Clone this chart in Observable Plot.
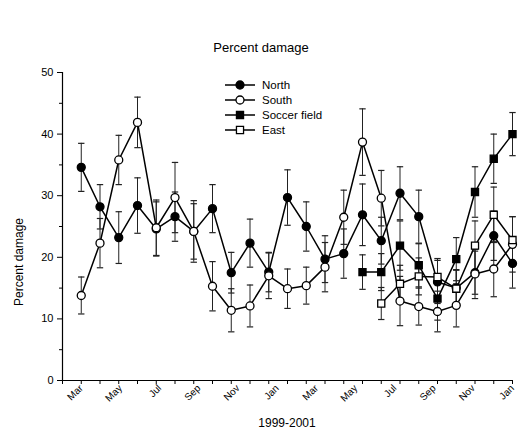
<!DOCTYPE html>
<html>
<head>
<meta charset="utf-8">
<script src="https://cdn.jsdelivr.net/npm/d3@7"></script>
<script src="https://cdn.jsdelivr.net/npm/@observablehq/plot@0.6"></script>
<style>
  html, body { margin: 0; padding: 0; background: #fff; }
  #chart svg { display: block; }
</style>
</head>
<body>
<div id="chart"></div>
<script>
// ---- data ----
const monthLabels = ["Mar","May","Jul","Sep","Nov","Jan","Mar","May","Jul","Sep","Nov","Jan"];
const yTicks = [0, 10, 20, 30, 40, 50];
const yMinor = [5, 15, 25, 35, 45];
const seriesNames = ["North", "South", "Soccer field", "East"];

// sampling occasions 0..23 (Mar 1999 – early 2001)
const north    = [34.6, 28.2, 23.2, 28.4, 24.6, 26.6, 24.2, 27.9, 17.5, 22.3, 17.6, 29.7, 25.0, 19.7, 20.6, 26.9, 22.7, 30.4, 26.6, 16.0, 15.0, 17.5, 23.5, 19.0];
const northErr = [3.9, 3.6, 4.2, 4.5, 4.4, 4.0, 4.5, 3.9, 3.3, 3.9, 3.2, 4.5, 4.0, 3.8, 4.0, 5.0, 3.8, 4.3, 4.3, 3.5, 3.0, 3.5, 4.0, 4.0];
const south    = [13.8, 22.3, 35.8, 41.9, 24.8, 29.7, 24.2, 15.3, 11.4, 12.1, 17.0, 14.9, 15.4, 18.4, 26.5, 38.7, 29.6, 12.9, 12.0, 11.2, 12.2, 17.3, 18.1, 22.1];
const southErr = [3.0, 4.0, 4.0, 4.1, 4.5, 5.7, 5.0, 4.0, 3.5, 3.4, 3.7, 3.2, 3.0, 4.0, 4.4, 5.4, 4.5, 4.0, 3.0, 3.3, 3.5, 4.0, 4.5, 4.5];
const soccerStart = 15;
const soccer    = [17.6, 17.6, 21.9, 18.7, 13.3, 19.7, 30.6, 36.0, 40.0];
const soccerErr = [2.8, 3.0, 4.0, 3.5, 3.5, 3.5, 4.1, 4.0, 3.5];
const eastStart = 16;
const east    = [12.5, 15.7, 16.9, 16.8, 14.9, 21.9, 26.9, 22.8];
const eastErr = [2.6, 3.0, 3.0, 3.0, 3.0, 4.0, 4.5, 3.8];

// ---- build table ----
function rows(name, vals, errs, start) {
  return vals.map((v, i) => ({series: name, i: start + i, v, e: errs[i]}));
}
const data = [
  ...rows("North", north, northErr, 0),
  ...rows("South", south, southErr, 0),
  ...rows("Soccer field", soccer, soccerErr, soccerStart),
  ...rows("East", east, eastErr, eastStart)
];
const sampleIdx = d3.range(-1, north.length);
const labelPos = monthLabels.map((_, k) => k * (north.length - 1) / (monthLabels.length - 1));

const style = {
  "North":        {fill: "black", symbol: "circle"},
  "South":        {fill: "white", symbol: "circle"},
  "Soccer field": {fill: "black", symbol: "square"},
  "East":         {fill: "white", symbol: "square"}
};
const capHalf = 0.17;

const marks = [
  Plot.ruleX([-1], {stroke: "black", strokeWidth: 1.2}),
  Plot.ruleY([0], {stroke: "black", strokeWidth: 1.2}),
  Plot.axisY({ticks: yTicks, tickSize: 5, tickPadding: 4, label: null, fontSize: 11}),
  Plot.axisY({ticks: yMinor, tickSize: 3, tickFormat: () => "", label: null}),
  Plot.axisX({ticks: sampleIdx, tickSize: 4, tickFormat: () => "", label: null}),
  Plot.axisX({ticks: labelPos, tickSize: 0, tickPadding: 6, tickRotate: -45, fontSize: 10,
              tickFormat: d => monthLabels[Math.round(d * (monthLabels.length - 1) / (north.length - 1))], label: null})
];

for (const name of seriesNames) {
  const d = data.filter(r => r.series === name);
  marks.push(
    Plot.ruleX(d, {x: "i", y1: r => r.v - r.e, y2: r => r.v + r.e, stroke: "#222", strokeWidth: 1}),
    Plot.link(d, {x1: r => r.i - capHalf, x2: r => r.i + capHalf, y1: r => r.v + r.e, y2: r => r.v + r.e, stroke: "#222", strokeWidth: 1.2}),
    Plot.link(d, {x1: r => r.i - capHalf, x2: r => r.i + capHalf, y1: r => r.v - r.e, y2: r => r.v - r.e, stroke: "#222", strokeWidth: 1.2})
  );
}
for (const name of seriesNames) {
  const d = data.filter(r => r.series === name);
  marks.push(
    Plot.line(d, {x: "i", y: "v", stroke: "black", strokeWidth: 1.5}),
    Plot.dot(d, {x: "i", y: "v", r: 4, symbol: style[name].symbol, fill: style[name].fill, stroke: "black", strokeWidth: 1.3})
  );
}

const chart = Plot.plot({
  width: 522, height: 434,
  marginLeft: 62, marginRight: 10, marginTop: 72, marginBottom: 54,
  style: {fontFamily: "'Liberation Sans', Arial, sans-serif", fontSize: "11px", background: "white", color: "black", overflow: "visible"},
  x: {domain: [-1, 23]},
  y: {domain: [0, 50]},
  marks
});
document.getElementById("chart").appendChild(chart);

// ---- title, axis titles, legend ----
const svg = d3.select(chart);
const font = "'Liberation Sans', Arial, sans-serif";
svg.append("text").attr("x", 261).attr("y", 52).attr("text-anchor", "middle")
  .attr("font-family", font).attr("font-size", 13).text("Percent damage");
svg.append("text").attr("transform", "translate(23,262) rotate(-90)").attr("text-anchor", "middle")
  .attr("font-family", font).attr("font-size", 12).text("Percent damage");
svg.append("text").attr("x", 287).attr("y", 427).attr("text-anchor", "middle")
  .attr("font-family", font).attr("font-size", 12).text("1999-2001");

const legend = svg.append("g").attr("transform", "translate(225,85)");
seriesNames.forEach((name, k) => {
  const g = legend.append("g").attr("transform", `translate(0,${k * 15})`);
  g.append("line").attr("x1", 0).attr("x2", 30).attr("y1", 0).attr("y2", 0)
    .attr("stroke", "black").attr("stroke-width", 1.5);
  const sym = style[name].symbol === "circle" ? d3.symbolCircle : d3.symbolSquare;
  g.append("path").attr("transform", "translate(15,0)")
    .attr("d", d3.symbol(sym, 16 * Math.PI)())
    .attr("fill", style[name].fill).attr("stroke", "black").attr("stroke-width", 1.3);
  g.append("text").attr("x", 37).attr("y", 4).attr("text-anchor", "start")
    .attr("font-family", font).attr("font-size", 11.5).text(name);
});
</script>
</body>
</html>
